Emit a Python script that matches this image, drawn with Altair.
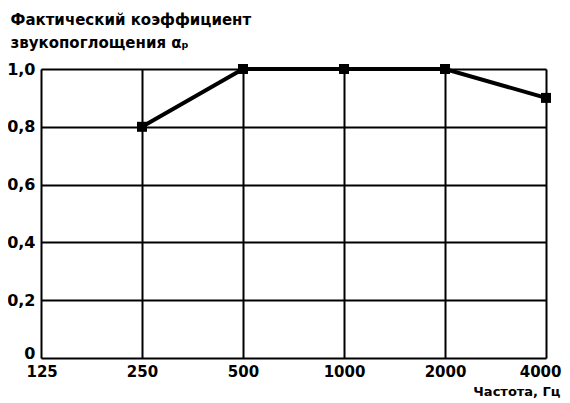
import altair as alt
import pandas as pd

freqs = [250, 500, 1000, 2000, 4000]
alpha = [0.8, 1.0, 1.0, 1.0, 0.9]
x_ticks = [125, 250, 500, 1000, 2000, 4000]
y_ticks = [0, 0.2, 0.4, 0.6, 0.8, 1.0]
y_title = ["Фактический коэффициент", "звукопоглощения αₚ"]
x_title = "Частота, Гц"

df = pd.DataFrame({"f": freqs, "a": alpha})
FONT = "DejaVu Sans"

base = alt.Chart(df).encode(
    x=alt.X("f:Q",
            scale=alt.Scale(type="log", domain=[125, 4000], nice=False),
            axis=alt.Axis(values=x_ticks, format="d", title=x_title,
                          grid=True, gridColor="black", gridWidth=2, gridOpacity=1,
                          ticks=False, domain=False, labelPadding=6,
                          labelFont=FONT, labelFontSize=15, labelFontWeight="bold",
                          labelColor="black", labelFlush=True, labelFlushOffset=15,
                          titleFont=FONT, titleFontSize=13, titleFontWeight="bold",
                          titleColor="black", titleAnchor="end", titleAlign="right",
                          titleX=519, titleY=40, titleBaseline="bottom")),
    y=alt.Y("a:Q",
            scale=alt.Scale(domain=[0, 1], nice=False),
            axis=alt.Axis(values=y_ticks, title=y_title,
                          labelExpr="datum.value == 0 ? '0' : replace(format(datum.value, '.1f'), '.', ',')",
                          labelBaseline={"condition": {"test": "datum.value == 0", "value": "alphabetic"}, "value": "middle"},
                          grid=True, gridColor="black", gridWidth=2, gridOpacity=1,
                          ticks=False, domain=False, labelPadding=6,
                          labelFont=FONT, labelFontSize=16, labelFontWeight="bold",
                          labelColor="black", labelFlush=False,
                          titleFont=FONT, titleFontSize=15, titleFontWeight="bold",
                          titleColor="black", titleAngle=0, titleAlign="left",
                          titleBaseline="top", titleX=-31, titleY=-57, titleLineHeight=23)),
)

line = base.mark_line(color="black", strokeWidth=4)
pts = base.mark_square(color="black", size=100, opacity=1)

chart = (line + pts).properties(
    width=505, height=289,
    autosize="none",
    padding={"left": 33, "top": 61, "right": 16, "bottom": 40},
).configure_view(stroke="black", strokeWidth=2.5).configure(background="white")

chart.save("out.html", embed_options={"renderer": "svg", "actions": False})
